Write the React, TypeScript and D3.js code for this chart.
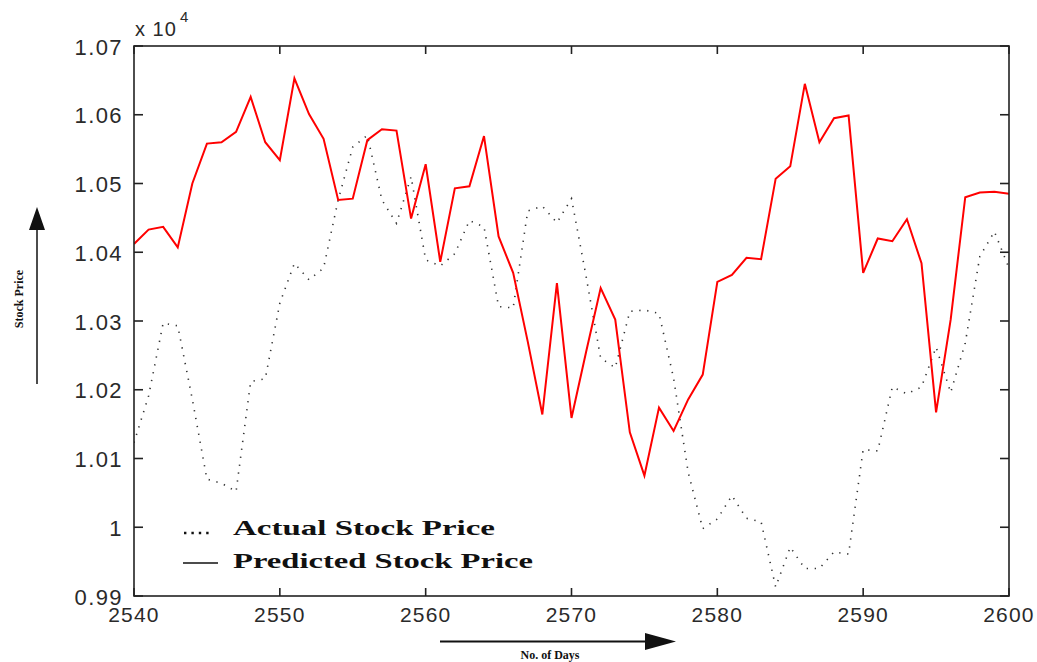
import React from "react";
import * as d3 from "d3";

const days = [
  2540, 2541, 2542, 2543, 2544, 2545, 2546, 2547, 2548, 2549,
  2550, 2551, 2552, 2553, 2554, 2555, 2556, 2557, 2558, 2559,
  2560, 2561, 2562, 2563, 2564, 2565, 2566, 2567, 2568, 2569,
  2570, 2571, 2572, 2573, 2574, 2575, 2576, 2577, 2578, 2579,
  2580, 2581, 2582, 2583, 2584, 2585, 2586, 2587, 2588, 2589,
  2590, 2591, 2592, 2593, 2594, 2595, 2596, 2597, 2598, 2599, 2600,
];

const actual = [
  1.0123, 1.0191, 1.0297, 1.0293, 1.0186, 1.007, 1.0064, 1.0052, 1.0212, 1.0216,
  1.0326, 1.0384, 1.036, 1.0377, 1.0476, 1.0553, 1.057, 1.0476, 1.0442, 1.051,
  1.0389, 1.038, 1.0398, 1.0446, 1.0437, 1.0321, 1.0319, 1.046, 1.0467, 1.0443,
  1.0478, 1.0365, 1.0246, 1.0232, 1.0314, 1.0316, 1.0311, 1.0217, 1.008, 0.9998,
  1.0012, 1.0046, 1.0013, 1.0008, 0.9913, 0.9971, 0.994, 0.994, 0.9964, 0.9961,
  1.0113, 1.0111, 1.0204, 1.0194, 1.0204, 1.0262, 1.0196, 1.0268, 1.0394, 1.043, 1.0377,
];

const predicted = [
  1.0412, 1.0433, 1.0437, 1.0407, 1.05, 1.0558, 1.056, 1.0575, 1.0626, 1.056,
  1.0534, 1.0653, 1.0601, 1.0565, 1.0476, 1.0478, 1.0563, 1.0579, 1.0577, 1.0449,
  1.0528, 1.0386, 1.0493, 1.0496, 1.0569, 1.0423, 1.037, 1.027, 1.0164, 1.0355,
  1.0159, 1.0255, 1.0348, 1.0302, 1.0138, 1.0075, 1.0174, 1.014, 1.0186, 1.0222,
  1.0357, 1.0367, 1.0392, 1.039, 1.0507, 1.0525, 1.0645, 1.056, 1.0595, 1.0599,
  1.037, 1.042, 1.0416, 1.0448, 1.0384, 1.0167, 1.0302, 1.048, 1.0487, 1.0488, 1.0485,
];

const xTicks = [2540, 2550, 2560, 2570, 2580, 2590, 2600];
const yTicks = [0.99, 1.0, 1.01, 1.02, 1.03, 1.04, 1.05, 1.06, 1.07];

const legendLabels = ["Actual Stock Price", "Predicted Stock Price"];

const W = 1037;
const H = 662;
const L = 134;
const R = 1009;
const T = 46;
const B = 596;

export default function App() {
  const x = d3.scaleLinear().domain([2540, 2600]).range([L, R]);
  const y = d3.scaleLinear().domain([0.99, 1.07]).range([B, T]);
  const fmt = d3.format(".3~g");

  const lineA = d3
    .line<number>()
    .x((_, i) => x(days[i]))
    .y((d) => y(d));

  const clipId = "plotClip";
  const tickFont = "'Liberation Sans', Arial, sans-serif";
  const serif = "'Liberation Serif', 'Times New Roman', serif";
  const textColor = "#2a2a2a";

  return (
    <svg
      width={W}
      height={H}
      style={{ position: "absolute", left: 0, top: 0, display: "block", background: "#fff" }}
    >
      <defs>
        <clipPath id={clipId}>
          <rect x={L} y={T} width={R - L} height={B - T} />
        </clipPath>
      </defs>
      <rect x={0} y={0} width={W} height={H} fill="#fff" />

      {/* data lines */}
      <g clipPath={`url(#${clipId})`}>
        <path
          d={lineA(actual) || ""}
          fill="none"
          stroke="#333"
          strokeWidth={1.6}
          strokeDasharray="1.3 6.7"
        />
        <path d={lineA(predicted) || ""} fill="none" stroke="#ff0000" strokeWidth={2} strokeLinejoin="miter" />
      </g>

      {/* axes box */}
      <rect x={L} y={T} width={R - L} height={B - T} fill="none" stroke="#222" strokeWidth={1.6} />

      {/* x ticks */}
      {xTicks.map((t) => (
        <g key={`xt${t}`}>
          <line x1={x(t)} x2={x(t)} y1={B} y2={B - 8} stroke="#222" strokeWidth={1.6} />
          <line x1={x(t)} x2={x(t)} y1={T} y2={T + 8} stroke="#222" strokeWidth={1.6} />
          <text
            x={x(t)}
            y={622}
            textAnchor="middle"
            fontFamily={tickFont}
            fontSize={21}
            letterSpacing={1.2}
            fill={textColor}
          >
            {t}
          </text>
        </g>
      ))}

      {/* y ticks */}
      {yTicks.map((t) => (
        <g key={`yt${t}`}>
          <line x1={L} x2={L + 9} y1={y(t)} y2={y(t)} stroke="#222" strokeWidth={1.6} />
          <line x1={R} x2={R - 9} y1={y(t)} y2={y(t)} stroke="#222" strokeWidth={1.6} />
          <text
            x={123}
            y={y(t) + 8.5}
            textAnchor="end"
            fontFamily={tickFont}
            fontSize={22}
            letterSpacing={1.4}
            fill={textColor}
          >
            {fmt(t)}
          </text>
        </g>
      ))}

      {/* exponent */}
      <text x={135} y={36} fontFamily={tickFont} fontSize={20} fill={textColor} letterSpacing={1}>
        x 10
      </text>
      <text x={180} y={22} fontFamily={tickFont} fontSize={15} fill={textColor}>
        4
      </text>

      {/* legend */}
      <line x1={184} x2={212} y1={533} y2={533} stroke="#111" strokeWidth={2.4} strokeDasharray="2.4 5" />
      <text
        x={233}
        y={535}
        fontFamily={serif}
        fontWeight="bold"
        fontSize={22}
        textLength={262}
        lengthAdjust="spacingAndGlyphs"
        fill="#111"
      >
        {legendLabels[0]}
      </text>
      <line x1={183} x2={218} y1={563} y2={563} stroke="#111" strokeWidth={1.3} />
      <text
        x={233}
        y={568}
        fontFamily={serif}
        fontWeight="bold"
        fontSize={22}
        textLength={300}
        lengthAdjust="spacingAndGlyphs"
        fill="#111"
      >
        {legendLabels[1]}
      </text>

      {/* y-axis label with arrow */}
      <line x1={37} x2={37} y1={384} y2={224} stroke="#111" strokeWidth={1.5} />
      <polygon points="37,207 29,230 45,230" fill="#111" />
      <text
        transform="translate(23,299) rotate(-90)"
        textAnchor="middle"
        fontFamily={serif}
        fontWeight="bold"
        fontSize={12}
        fill="#111"
      >
        Stock Price
      </text>

      {/* x-axis label with arrow */}
      <line x1={440} x2={652} y1={641.5} y2={641.5} stroke="#111" strokeWidth={2} />
      <polygon points="676,641.5 645,633 645,650" fill="#111" />
      <text
        x={550}
        y={659}
        textAnchor="middle"
        fontFamily={serif}
        fontWeight="bold"
        fontSize={12}
        fill="#111"
      >
        No. of Days
      </text>
    </svg>
  );
}
